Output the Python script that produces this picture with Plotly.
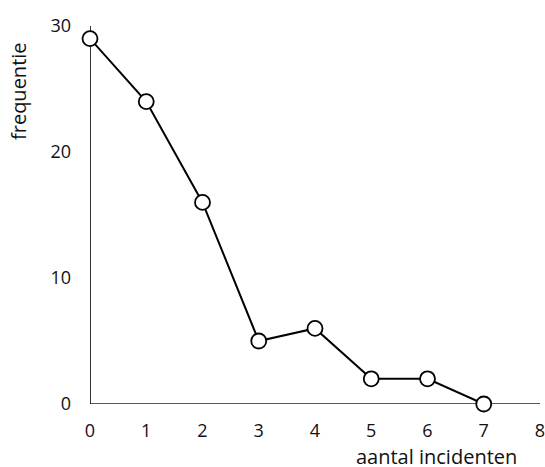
import plotly.graph_objects as go

aantal = [0, 1, 2, 3, 4, 5, 6, 7]
frequentie = [29, 24, 16, 5, 6, 2, 2, 0]
x_ticks = [0, 1, 2, 3, 4, 5, 6, 7, 8]
y_ticks = [0, 10, 20, 30]

FONT = "'Open Sans', sans-serif"

L, R, T, B = 90, 5, 26, 63
W, H = 545, 467
plot_w = W - L - R
plot_h = H - T - B

fig = go.Figure()
fig.add_trace(go.Scatter(
    x=aantal, y=frequentie, mode="lines+markers",
    line=dict(color="black", width=2),
    marker=dict(size=15, color="white", line=dict(color="black", width=1.8)),
    cliponaxis=False, showlegend=False,
))

# axis lines
fig.add_shape(type="line", x0=0, x1=0, y0=0, y1=30, xref="x", yref="y",
              line=dict(color="black", width=1.6), layer="below")
fig.add_shape(type="line", x0=0, x1=8, y0=0, y1=0, xref="x", yref="y",
              line=dict(color="#222", width=1.4), layer="below")

fig.update_layout(
    width=W, height=H,
    margin=dict(l=L, r=R, t=T, b=B, autoexpand=False),
    paper_bgcolor="white", plot_bgcolor="white",
    font=dict(family=FONT, size=18, color="#111"),
    xaxis=dict(range=[0, 8], tickvals=x_ticks, showgrid=False, zeroline=False,
               showline=False, ticks="", ticklabelstandoff=14, automargin=False,
               ticklabeloverflow="allow"),
    yaxis=dict(range=[0, 30], tickvals=y_ticks, showgrid=False, zeroline=False,
               showline=False, ticks="", ticklabelstandoff=18, automargin=False,
               ticklabeloverflow="allow"),
    annotations=[
        dict(text="frequentie", x=(18 - L) / plot_w, y=(H - B - 91) / plot_h,
             xref="paper", yref="paper", xanchor="center", yanchor="middle",
             showarrow=False, textangle=-90, font=dict(size=20)),
        dict(text="aantal incidenten", x=(436 - L) / plot_w, y=(H - B - 456) / plot_h,
             xref="paper", yref="paper", xanchor="center", yanchor="middle",
             showarrow=False, font=dict(size=20)),
    ],
)

fig.write_html("out.html", config={"displayModeBar": False},
               post_script="document.body.style.margin='0';")
